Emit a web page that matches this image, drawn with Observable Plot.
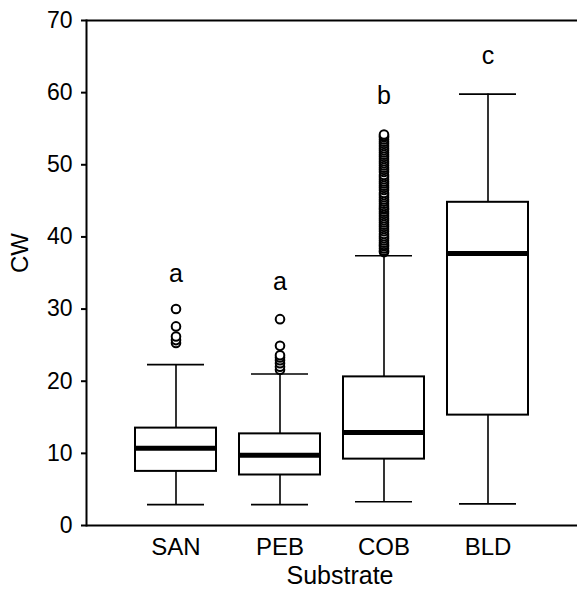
<!DOCTYPE html>
<html>
<head>
<meta charset="utf-8">
<script src="https://cdn.jsdelivr.net/npm/d3@7"></script>
<script src="https://cdn.jsdelivr.net/npm/@observablehq/plot@0.6"></script>
<style>
  html, body { margin: 0; padding: 0; background: #fff; }
</style>
</head>
<body>
<div id="chart"></div>
<script>
const categories = ["SAN", "PEB", "COB", "BLD"];
const whiskerLow = [2.9, 2.9, 3.3, 3.0];
const q1 = [7.5, 7.0, 9.2, 15.3];
const median = [10.7, 9.75, 12.9, 37.7];
const q3 = [13.5, 12.7, 20.6, 44.8];
const whiskerHigh = [22.3, 21.0, 37.4, 59.8];
const letters = ["a", "a", "b", "c"];
const letterY = [34.9, 33.8, 59.6, 65.1];
const outliersSAN = [25.3, 25.7, 26.2, 27.6, 30.0];
const outliersPEB = [21.6, 22.0, 22.5, 22.9, 23.3, 23.6, 24.9, 28.6];
const outliersCOB = [37.9, 38.1, 38.4, 38.7, 38.9, 39.2, 39.5, 39.8, 40.1, 40.4, 40.8, 41.1, 41.4,
  41.7, 42.0, 42.3, 42.6, 42.9, 43.2, 43.5, 43.8, 44.0, 44.3, 44.6, 44.9, 45.2, 45.5, 45.8,
  46.1, 46.5, 46.8, 47.1, 47.4, 47.7, 48.0, 48.3, 48.6, 49.0, 49.3, 49.6, 49.9, 50.2, 50.5,
  50.8, 51.1, 51.4, 51.7, 52.0, 52.3, 52.6, 52.9, 53.2, 53.5, 53.8, 54.0, 54.2];
const outliersBLD = [];
const yTicks = [0, 10, 20, 30, 40, 50, 60, 70];

const boxes = categories.map((c, i) => ({
  cat: c, lo: whiskerLow[i], q1: q1[i], med: median[i], q3: q3[i], hi: whiskerHigh[i],
  letter: letters[i], ly: letterY[i]
}));
const outliers = [
  ...outliersSAN.map(v => ({cat: "SAN", v})),
  ...outliersPEB.map(v => ({cat: "PEB", v})),
  ...outliersCOB.map(v => ({cat: "COB", v})),
  ...outliersBLD.map(v => ({cat: "BLD", v}))
];

const font = "'Liberation Sans', Arial, Helvetica, sans-serif";

const chart = Plot.plot({
  width: 577,
  height: 596,
  marginLeft: 86,
  marginRight: 0,
  marginTop: 20,
  marginBottom: 71,
  style: {fontFamily: font, fontSize: "24px", color: "#000", background: "#fff"},
  x: {domain: categories, paddingInner: 0.223, paddingOuter: 0.46, label: null},
  y: {domain: [0, 70], label: null},
  marks: [
    Plot.frame({anchor: "left", stroke: "#000", strokeWidth: 2}),
    Plot.ruleY([0, 70], {stroke: "#000", strokeWidth: 2}),
    Plot.axisY({ticks: yTicks, tickSize: 5, tickPadding: 9, tickFormat: d => String(d),
      fontSize: 23, stroke: "#000", strokeWidth: 2, strokeOpacity: 1, label: null}),
    Plot.axisX({tickSize: 0, tickPadding: 12, fontSize: 24, label: null}),
    Plot.ruleX(boxes, {x: "cat", y1: "q3", y2: "hi", stroke: "#000", strokeWidth: 1.6}),
    Plot.ruleX(boxes, {x: "cat", y1: "lo", y2: "q1", stroke: "#000", strokeWidth: 1.6}),
    Plot.tickY(boxes, {x: "cat", y: "hi", stroke: "#000", strokeWidth: 1.6, insetLeft: 12, insetRight: 12}),
    Plot.tickY(boxes, {x: "cat", y: "lo", stroke: "#000", strokeWidth: 1.6, insetLeft: 12, insetRight: 12}),
    Plot.barY(boxes, {x: "cat", y1: "q1", y2: "q3", fill: "#fff", stroke: "#000", strokeWidth: 2}),
    Plot.tickY(boxes, {x: "cat", y: "med", stroke: "#000", strokeWidth: 5}),
    Plot.dot(outliers, {x: "cat", y: "v", r: 4.3, stroke: "#000", strokeWidth: 2, fill: "#fff"}),
    Plot.text(boxes, {x: "cat", y: "ly", text: "letter", fontSize: 25, fill: "#000"}),
    Plot.text(["CW"], {frameAnchor: "left", dx: -66, rotate: -90, fontSize: 24, fill: "#000"}),
    Plot.text(["Substrate"], {frameAnchor: "bottom", dx: 8, dy: 58, fontSize: 25, fill: "#000"})
  ]
});
document.getElementById("chart").appendChild(chart);
</script>
</body>
</html>
